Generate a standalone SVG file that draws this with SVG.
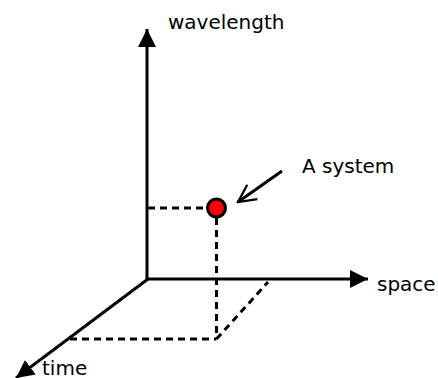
<svg xmlns="http://www.w3.org/2000/svg" width="438" height="378" viewBox="0 0 438 378">
<style>
.ax{stroke:#000;stroke-width:3;fill:none}
.ds{stroke:#000;stroke-width:3;fill:none;stroke-dasharray:7,5}
text{font-family:"DejaVu Sans",sans-serif;font-size:20px;fill:#000}
</style>
<defs>
<marker id="ah" viewBox="0 0 10 10" refX="10" refY="5" markerWidth="6" markerHeight="6" markerUnits="strokeWidth" orient="auto"><path d="M0,0 L10,5 L0,10 z" fill="#000"/></marker>
<marker id="oh" viewBox="0 0 12 12" refX="11" refY="6" markerWidth="7" markerHeight="7" markerUnits="strokeWidth" orient="auto"><path d="M1,1 L11,6 L1,11" fill="none" stroke="#000" stroke-width="1.3"/></marker>
</defs>
<g id="connectors">
<line class="ax" x1="147" y1="280" x2="147" y2="29" marker-end="url(#ah)"/>
<line class="ax" x1="146" y1="279" x2="368" y2="279" marker-end="url(#ah)"/>
<line class="ax" x1="148" y1="279" x2="16" y2="378" marker-end="url(#ah)"/>
<line class="ds" x1="148" y1="208" x2="207" y2="208"/>
<line class="ds" x1="216.5" y1="218" x2="216.5" y2="339"/>
<line class="ds" x1="70" y1="339" x2="216.5" y2="339"/>
<line class="ds" x1="216.5" y1="339" x2="268" y2="282"/>
<line class="ax" x1="282" y1="171" x2="238" y2="202" marker-end="url(#oh)"/>
</g>
<g id="system"><circle cx="216.5" cy="208" r="9" fill="#f00" stroke="#000" stroke-width="3"/></g>
<g id="label-wavelength"><text x="168" y="29">wavelength</text></g>
<g id="label-system"><text x="302" y="173">A system</text></g>
<g id="label-space"><text x="377" y="291">space</text></g>
<g id="label-time"><text x="42" y="375">time</text></g>
</svg>
